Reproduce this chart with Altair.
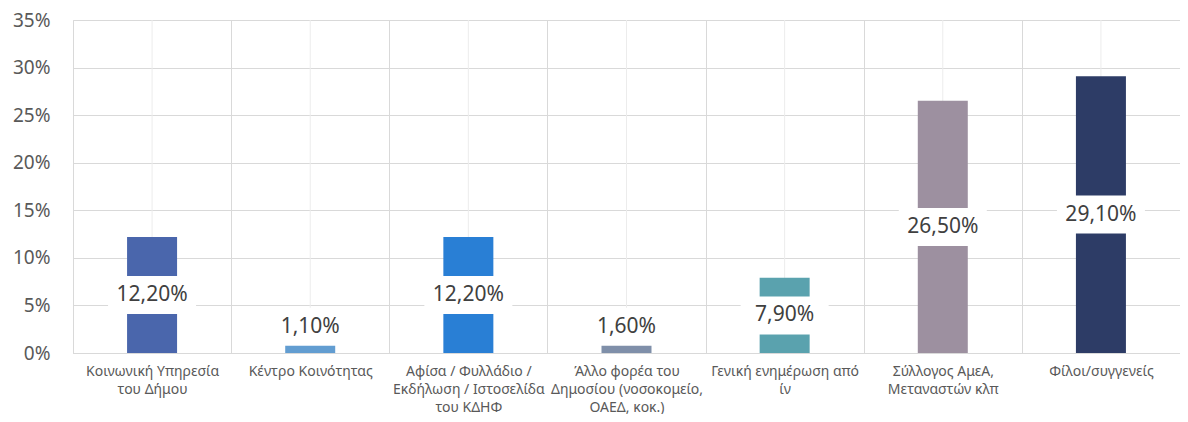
import altair as alt
import pandas as pd

categories = [
    "Κοινωνική Υπηρεσία\nτου Δήμου",
    "Κέντρο Κοινότητας",
    "Αφίσα / Φυλλάδιο /\nΕκδήλωση / Ιστοσελίδα\nτου ΚΔΗΦ",
    "Άλλο φορέα του\nΔημοσίου (νοσοκομείο,\nΟΑΕΔ, κοκ.)",
    "Γενική ενημέρωση από\nίν",
    "Σύλλογος ΑμεΑ,\nΜεταναστών κλπ",
    "Φίλοι/συγγενείς",
]
values = [12.2, 1.1, 12.2, 1.6, 7.9, 26.5, 29.1]
colors = ["#4A66AC", "#629DD1", "#297FD5", "#7F8FA9", "#5AA2AE", "#9D90A0", "#2D3C66"]
y_ticks = [0, 5, 10, 15, 20, 25, 30, 35]

labels = [f"{v:.2f}".replace(".", ",") + "%" for v in values]
df = pd.DataFrame({"cat": categories, "val": values, "lab": labels})

FONT = "Noto Sans"
W, H = 1107, 333

xenc = alt.X(
    "cat:N",
    sort=categories,
    scale=alt.Scale(paddingInner=0, paddingOuter=0),
    axis=alt.Axis(
        title=None,
        grid=True,
        tickBand="extent",
        gridColor="#d9d9d9",
        domainColor="#d9d9d9",
        ticks=False,
        labelAngle=0,
        labelFont=FONT,
        labelFontSize=14,
        labelColor="#595959",
        labelExpr="split(datum.label, '\\n')",
        labelLineHeight=18,
        labelPadding=11,
        labelOverlap=False,
        labelLimit=0,
        labelBound=False,
    ),
)

yaxis = alt.Axis(
    title=None,
    values=y_ticks,
    labelExpr="datum.value + '%'",
    domain=False,
    ticks=False,
    grid=True,
    gridColor="#d9d9d9",
    labelPadding=23,
    labelFont=FONT,
    labelFontSize=19,
    labelColor="#595959",
)
yscale = alt.Scale(domain=[0, 35], nice=False)

base = alt.Chart(df).encode(x=xenc)

center_rules = base.mark_rule(color="#ececec", strokeWidth=1).encode(
    y=alt.value(0), y2=alt.value(H)
)

bars = base.mark_bar(width=50).encode(
    y=alt.Y("val:Q", scale=yscale, axis=yaxis),
    color=alt.Color("cat:N", scale=alt.Scale(domain=categories, range=colors), legend=None),
)

lab_base = base.transform_calculate(mid="max(datum.val / 2, 2.75)")

boxes = lab_base.mark_point(
    shape="M-1,-0.432L1,-0.432L1,0.432L-1,0.432Z",
    size=7744,
    filled=True,
    fill="white",
    opacity=1,
    strokeWidth=0,
).encode(y=alt.Y("mid:Q", scale=yscale, axis=yaxis))

texts = lab_base.mark_text(font=FONT, fontSize=21, color="#404040").encode(
    y=alt.Y("mid:Q", scale=yscale, axis=yaxis), text="lab:N"
)

chart = (
    alt.layer(center_rules, bars, boxes, texts)
    .properties(
        width=W,
        height=H,
        autosize=alt.AutoSizeParams(type="none"),
        padding={"left": 65, "top": 12, "right": 0, "bottom": 61},
    )
    .configure_view(stroke=None)
    .configure(background="white")
)

chart.save("out.html", embed_options={"renderer": "svg", "actions": False})
